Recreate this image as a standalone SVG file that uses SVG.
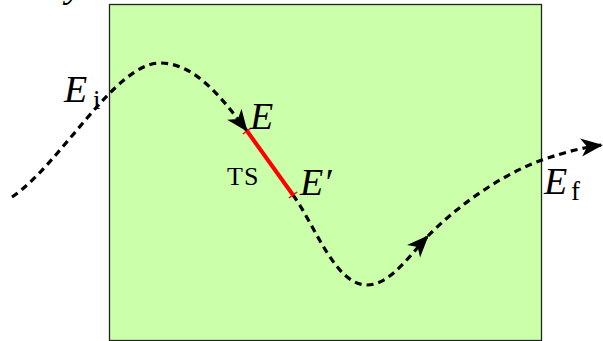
<svg xmlns="http://www.w3.org/2000/svg" width="603" height="341" viewBox="0 0 603 341">
<style>
.lbl{font-family:"Liberation Serif",serif;font-style:italic;font-size:38px;fill:#000}
.sub{font-family:"Liberation Serif",serif;font-size:27px;fill:#000}
.ts{font-family:"Liberation Serif",serif;font-size:26px;letter-spacing:1px;fill:#000}
.dash{fill:none;stroke:#000;stroke-width:3.2;stroke-dasharray:7 5}
</style>
<defs>
<marker id="arr" markerUnits="userSpaceOnUse" markerWidth="26" markerHeight="20" refX="21" refY="9" orient="auto" viewBox="0 0 26 18">
<path d="M0,0 L22,9 L0,18 L6,9 Z" fill="#000"/>
</marker>
</defs>
<text x="66" y="-3" class="lbl" font-size="24">y</text>
<g id="box">
<rect x="109.5" y="4.5" width="432" height="336" fill="#ccffaa" stroke="#222" stroke-width="1.3"/>
</g>
<g id="connectors">
<path class="dash" d="M12,197 C60,165 115,63 160,63 C195,63 222,98 247,131" marker-end="url(#arr)"/>
<path class="dash" d="M293,195 C315,225 335,285 367,285 C390,285 410,255 428,236" marker-end="url(#arr)"/>
<path class="dash" d="M428,236 C455,208 500,175 542,160 C565,152 585,147 602,145" marker-end="url(#arr)"/>
<g id="ts-segment" stroke="#ff0000">
<line x1="247" y1="131" x2="293" y2="195" stroke-width="4"/>
<line x1="242.9" y1="134" x2="251.1" y2="128" stroke-width="1.5"/>
<line x1="288.9" y1="198" x2="297.1" y2="192" stroke-width="1.5"/>
</g>
</g>
<g id="label-Ei"><text x="64" y="102" class="lbl">E</text><text x="93" y="109" class="sub">i</text></g>
<g id="label-E"><text x="250" y="129" class="lbl">E</text></g>
<g id="label-Eprime"><text x="300" y="195" class="lbl">E′</text></g>
<g id="label-TS"><text x="227" y="185" class="ts">TS</text></g>
<g id="label-Ef"><text x="544" y="194" class="lbl">E</text><text x="571" y="200" class="sub">f</text></g>
</svg>
